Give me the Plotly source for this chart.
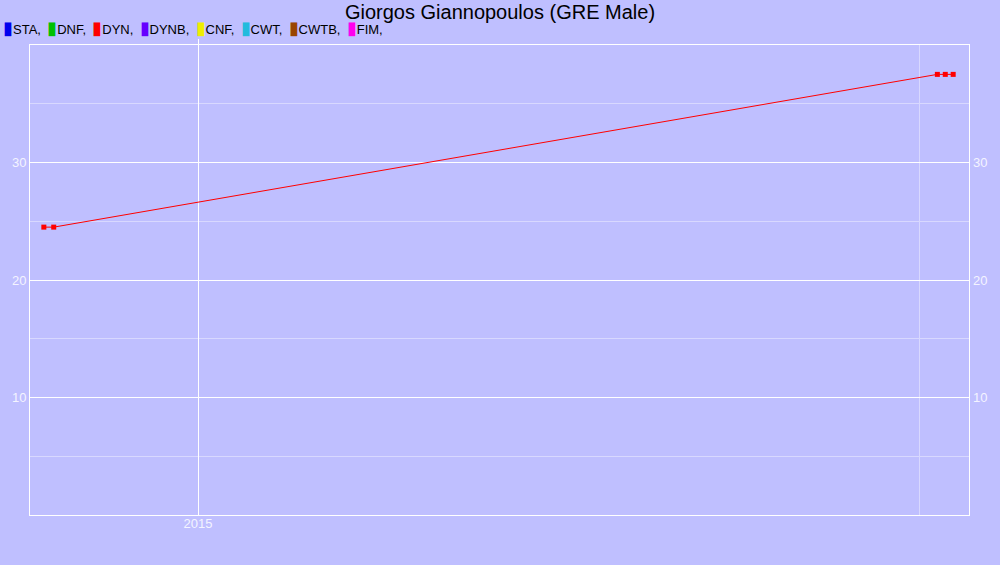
import plotly.graph_objects as go

title = "Giorgos Giannopoulos (GRE Male)"
disciplines = ["STA", "DNF", "DYN", "DYNB", "CNF", "CWT", "CWTB", "FIM"]
disc_colors = ["#0000EE", "#00C000", "#FF0000", "#6600FF", "#EEEE00", "#22BBDD", "#994400", "#FF00EE"]

dyn_dates = ["2014-11-23", "2014-11-25 12:00", "2015-07-07", "2015-07-09", "2015-07-11"]
dyn_values = [24.5, 24.5, 37.5, 37.5, 37.5]

x_range = ["2014-11-19 12:00", "2015-07-15"]
y_range = [0, 40]

bg = "#BFBFFF"
tick_col = "#F4F4FF"
half_year_ms = 365 * 0.5 * 86400000

fig = go.Figure()
fig.add_trace(go.Scatter(
    x=dyn_dates, y=dyn_values, mode="lines+markers",
    line=dict(color="#FF0000", width=1),
    marker=dict(symbol="square", size=5, color="#FF0000"),
    showlegend=False, hoverinfo="skip"))

legend_text = " \u2009".join(
    f"<span style='color:{c};font-size:18px'>▮</span>{d}," for d, c in zip(disciplines, disc_colors))

fig.update_layout(
    width=1000, height=565,
    paper_bgcolor=bg, plot_bgcolor=bg,
    margin=dict(l=30, r=31, t=45, b=50),
    font=dict(family="Liberation Sans, Arial, sans-serif", size=13, color=tick_col),
    title=dict(text=title, x=0.5, xanchor="center", y=0.992, yanchor="top",
               font=dict(size=20, color="#000000")),
    showlegend=False,
    xaxis=dict(type="date", range=x_range, dtick="M12", tickformat="%Y",
               showgrid=True, gridcolor="#FFFFFF", gridwidth=1,
               minor=dict(tick0="2015-01-01", dtick=half_year_ms, showgrid=True,
                          gridcolor="#D8D8FF", gridwidth=1),
               showline=True, linecolor="#FFFFFF", linewidth=1, mirror=True,
               ticks="", ticklabelstandoff=-4, zeroline=False,
               tickfont=dict(size=13, color=tick_col)),
    xaxis2=dict(type="date", overlaying="x", side="top", matches="x", dtick="M12",
                ticks="outside", ticklen=5, tickcolor="#FFFFFF", showticklabels=False,
                showgrid=False, showline=False, zeroline=False),
    yaxis=dict(range=y_range, tickvals=[10, 20, 30],
               showgrid=True, gridcolor="#FFFFFF", gridwidth=1,
               minor=dict(tickvals=[5, 15, 25, 35], showgrid=True, gridcolor="#D8D8FF"),
               showline=True, linecolor="#FFFFFF", linewidth=1, mirror=True,
               ticks="", zeroline=False, tickfont=dict(size=13, color=tick_col)),
    yaxis2=dict(range=y_range, overlaying="y", side="right", matches="y",
                tickvals=[10, 20, 30], showgrid=False, zeroline=False, ticks="",
                ticklabelstandoff=3,
                showline=False, tickfont=dict(size=13, color=tick_col)),
    annotations=[dict(text=legend_text, xref="paper", yref="paper", x=-0.031, y=1.0,
                      yshift=5, xanchor="left", yanchor="bottom", showarrow=False, align="left",
                      font=dict(size=13, color="#000000", family="Liberation Sans, Arial, sans-serif"))],
)
# invisible anchor point so the overlay (top/right) axes are rendered
fig.add_trace(go.Scatter(x=[dyn_dates[0]], y=[dyn_values[0]], xaxis="x2", yaxis="y2",
                         mode="markers", marker=dict(opacity=0), showlegend=False, hoverinfo="skip"))

fig.write_html("out.html", config={"displayModeBar": False},
               post_script="document.body.style.margin='0';document.body.style.padding='0';")
